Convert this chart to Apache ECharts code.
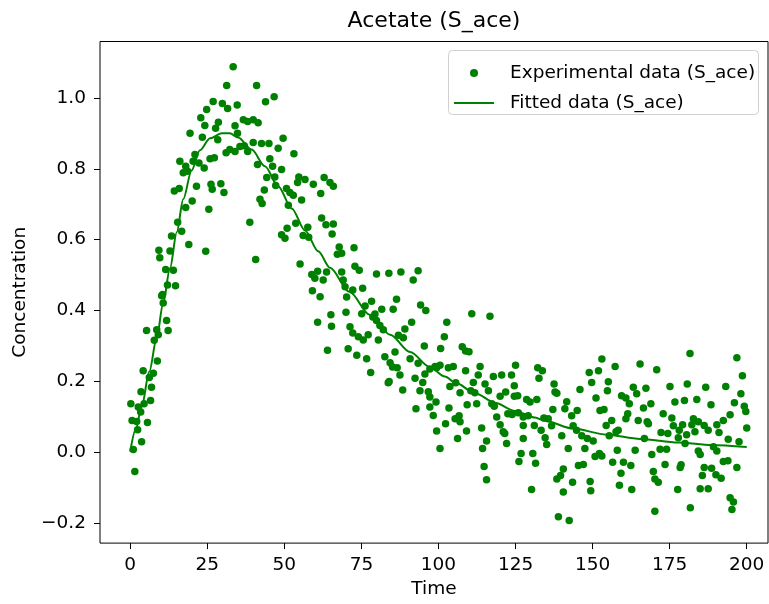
<!DOCTYPE html>
<html><head><meta charset="utf-8">
<script src="https://cdn.jsdelivr.net/npm/echarts@6/dist/echarts.min.js"></script>
<style>html,body{margin:0;padding:0;background:#fff}#chart{width:769px;height:604px}</style>
</head><body><div id="chart"></div>
<script>
const chartTitle = 'Acetate (S_ace)';
const xName = 'Time';
const yName = 'Concentration';
const seriesNames = ['Experimental data (S_ace)', 'Fitted data (S_ace)'];
const xTicks = [0, 25, 50, 75, 100, 125, 150, 175, 200];
const yTicks = [-0.2, 0.0, 0.2, 0.4, 0.6, 0.8, 1.0];

// experimental points [time, concentration]
const experimental = [
[31.3,1.035],[26.9,0.99],[29.9,0.984],[24.8,0.967],[31.6,0.97],[22.9,0.944],[28.6,0.931],[24.2,0.922],[27.7,0.914],[19.4,0.90],[23.4,0.889],[28.4,0.882],[31.1,0.845],[27.3,0.831],[25.9,0.828],[21.0,0.84],[16.1,0.821],[20.4,0.821],[22.3,0.816],[18.0,0.807],[17.2,0.789],[18.6,0.793],[24.0,0.802],[21.5,0.751],[26.2,0.756],[29.4,0.758],[26.6,0.742],[30.4,0.733],[15.9,0.744],[14.3,0.737],[20.1,0.709],[18.0,0.691],[25.5,0.686],[15.4,0.649],[16.7,0.624],[13.4,0.61],[19.0,0.586],[24.5,0.567],[9.3,0.57],[9.6,0.549],[12.9,0.568],[11.5,0.516],[14.0,0.514],[12.1,0.472],[14.7,0.47],[10.2,0.442],[10.5,0.445],[10.7,0.421],[11.8,0.372],[12.3,0.344],[5.3,0.344],[8.6,0.346],[9.1,0.332],[7.8,0.316],[8.8,0.258],[4.2,0.23],[7.5,0.223],[6.2,0.211],[6.9,0.184],[3.5,0.171],[6.6,0.146],[0.2,0.137],[2.6,0.128],[3.4,0.114],[4.5,0.137],[0.6,0.09],[2.1,0.087],[5.6,0.084],[2.4,0.064],[3.7,0.03],[1.0,0.008],[1.5,-0.054],
[33.4,1.088],[41.0,1.035],[46.7,1.003],[43.9,0.989],[34.7,0.98],[34.0,0.921],[36.7,0.938],[38.1,0.933],[39.9,0.938],[41.5,0.93],[34.8,0.90],[49.6,0.886],[32.3,0.854],[34.0,0.849],[35.6,0.863],[37.0,0.865],[38.1,0.849],[39.9,0.874],[42.6,0.871],[45.0,0.871],[48.0,0.858],[53.1,0.842],[41.3,0.812],[45.3,0.828],[46.2,0.807],[49.1,0.798],[44.3,0.775],[46.9,0.777],[43.5,0.74],[47.2,0.753],[50.7,0.744],[51.8,0.733],[52.9,0.725],[54.7,0.777],[56.7,0.77],[54.3,0.761],[59.4,0.756],[62.9,0.775],[64.8,0.761],[65.9,0.751],[61.8,0.73],[42.1,0.714],[42.8,0.702],[51.3,0.697],[55.6,0.712],[38.8,0.649],[50.9,0.632],[53.7,0.646],[49.1,0.614],[50.2,0.604],[57.6,0.635],[56.1,0.612],[57.9,0.607],[62.1,0.661],[63.5,0.642],[65.9,0.644],[65.5,0.616],[40.7,0.544],[55.1,0.531],[58.9,0.502],[59.9,0.491],[60.8,0.511],[62.6,0.486],[63.7,0.509],[59.1,0.456],[61.6,0.439],[60.8,0.367],[65.1,0.388],[65.3,0.356],[64.0,0.288],
[67.8,0.579],[72.6,0.577],[67.2,0.559],[68.6,0.562],[72.9,0.525],[74.3,0.514],[79.9,0.503],[83.9,0.505],[87.8,0.509],[93.4,0.512],[91.8,0.486],[68.6,0.509],[69.1,0.486],[69.7,0.467],[72.2,0.458],[75.4,0.463],[70.2,0.438],[78.3,0.426],[76.2,0.413],[86.4,0.432],[81.6,0.404],[85.3,0.404],[94.2,0.416],[95.9,0.40],[70.0,0.395],[75.1,0.391],[78.7,0.382],[79.4,0.39],[79.9,0.372],[91.3,0.367],[71.3,0.354],[81.0,0.358],[82.1,0.346],[89.1,0.348],[72.2,0.337],[74.0,0.326],[75.6,0.317],[77.2,0.332],[87.0,0.33],[88.6,0.323],[80.5,0.317],[70.7,0.292],[85.9,0.283],[95.4,0.30],[82.6,0.27],[73.5,0.274],[76.7,0.264],[84.3,0.253],[90.8,0.264],[93.4,0.251],[85.1,0.241],[86.6,0.239],[78.0,0.225],[87.5,0.218],[92.4,0.209],[95.6,0.221],[99.4,0.239],[97.2,0.235],[83.7,0.196],[84.0,0.20],[88.4,0.176],[94.9,0.197],[94.0,0.174],[96.7,0.171],[97.2,0.156],[99.2,0.142],[92.7,0.123],[97.2,0.128],[98.3,0.104],[99.4,0.06],[100.5,0.011],
[110.8,0.391],[116.7,0.384],[102.7,0.367],[101.9,0.326],[100.7,0.293],[107.7,0.298],[108.8,0.286],[109.9,0.284],[98.9,0.242],[100.5,0.246],[103.2,0.239],[104.8,0.242],[108.8,0.23],[113.5,0.242],[125.0,0.246],[132.2,0.239],[133.7,0.23],[112.9,0.218],[117.8,0.214],[120.5,0.218],[123.7,0.218],[132.6,0.209],[103.7,0.186],[105.6,0.196],[111.3,0.197],[115.1,0.193],[124.6,0.188],[116.2,0.174],[107.0,0.168],[110.5,0.174],[111.8,0.168],[121.8,0.17],[120.0,0.158],[112.4,0.137],[117.3,0.137],[124.6,0.158],[125.7,0.16],[128.6,0.149],[129.7,0.142],[131.9,0.149],[103.4,0.125],[109.3,0.134],[118.1,0.13],[118.9,0.10],[122.5,0.109],[123.9,0.107],[125.9,0.112],[127.5,0.10],[129.1,0.103],[105.4,0.095],[106.7,0.103],[107.0,0.086],[102.3,0.081],[114.0,0.069],[120.0,0.078],[127.5,0.076],[131.1,0.076],[133.3,0.062],[109.1,0.06],[121.0,0.058],[121.5,0.053],[122.1,0.025],[106.2,0.039],[115.6,0.032],[127.5,0.039],[114.3,0.011],[126.8,-0.003],[130.6,-0.003],[126.1,-0.026],[131.5,-0.031],[114.8,-0.04],[115.6,-0.077],[130.2,-0.105],
[153.0,0.263],[157.3,0.242],[165.4,0.249],[148.9,0.225],[151.9,0.23],[149.7,0.197],[155.1,0.199],[137.5,0.193],[145.9,0.177],[154.8,0.174],[163.2,0.184],[167.3,0.181],[137.8,0.17],[138.4,0.167],[159.4,0.16],[164.3,0.165],[151.1,0.153],[160.8,0.153],[141.6,0.143],[161.9,0.137],[141.0,0.123],[145.0,0.118],[137.1,0.121],[152.4,0.118],[153.7,0.121],[166.5,0.125],[161.4,0.109],[143.2,0.103],[134.2,0.097],[135.6,0.095],[156.2,0.09],[160.8,0.095],[164.8,0.09],[167.7,0.086],[136.7,0.075],[143.7,0.075],[154.4,0.076],[144.8,0.062],[158.3,0.062],[146.5,0.047],[140.0,0.047],[148.3,0.039],[155.4,0.047],[157.6,0.058],[134.6,0.041],[135.1,0.022],[150.2,0.032],[166.8,0.039],[142.1,0.011],[147.5,0.011],[158.0,0.006],[163.8,0.006],[152.2,-0.003],[150.8,-0.012],[153.0,-0.01],[156.5,-0.028],[160.0,-0.028],[145.4,-0.037],[147.0,-0.034],[162.4,-0.037],[140.5,-0.047],[159.2,-0.059],[139.6,-0.065],[138.4,-0.075],[143.5,-0.084],[149.2,-0.082],[158.7,-0.093],[140.5,-0.112],[149.4,-0.108],[162.7,-0.105],[138.9,-0.182],[142.4,-0.192],
[181.6,0.279],[196.8,0.267],[170.8,0.233],[198.6,0.216],[175.1,0.186],[180.7,0.193],[186.7,0.184],[193.2,0.186],[198.1,0.165],[183.8,0.149],[179.8,0.146],[176.7,0.142],[168.9,0.137],[188.4,0.134],[196.0,0.14],[199.2,0.13],[199.7,0.115],[172.9,0.109],[194.6,0.106],[175.7,0.097],[182.7,0.095],[192.4,0.09],[168.1,0.081],[176.2,0.075],[179.2,0.078],[182.2,0.078],[184.3,0.086],[186.2,0.076],[190.3,0.078],[200.0,0.069],[172.2,0.056],[174.4,0.053],[178.1,0.062],[180.5,0.05],[183.2,0.058],[187.5,0.062],[191.0,0.056],[177.8,0.041],[194.0,0.037],[197.5,0.03],[180.0,0.025],[171.9,0.009],[174.0,0.009],[184.3,0.004],[189.2,0.016],[190.3,0.004],[169.2,-0.006],[184.9,-0.006],[192.4,-0.026],[193.9,-0.024],[196.8,-0.043],[173.5,-0.034],[178.7,-0.035],[178.4,-0.043],[186.2,-0.043],[188.6,-0.045],[169.7,-0.054],[185.6,-0.065],[190.0,-0.063],[191.7,-0.073],[170.2,-0.075],[171.3,-0.084],[177.6,-0.105],[184.9,-0.103],[187.5,-0.103],[194.6,-0.128],[195.7,-0.14],[170.2,-0.166],[181.7,-0.156],[195.2,-0.161]
];

// fitted curve
const fitTime = [0,1.8,3.7,6.2,8.6,10.7,12.9,15.1,17.2,19.9,22.6,25.9,29.7,32.3,35,39.4,43.7,48,52.4,56.7,61,64.8,71.2,77.7,84.3,90.8,97.3,102.1,105.4,111.9,118.3,124.8,131.3,134.5,143.7,154.6,165.4,177.8,188.6,200];
const fitConc = [0.002,0.065,0.128,0.228,0.323,0.421,0.519,0.621,0.714,0.795,0.852,0.886,0.9,0.9,0.888,0.854,0.807,0.751,0.688,0.626,0.567,0.521,0.452,0.388,0.332,0.283,0.24,0.214,0.197,0.167,0.14,0.117,0.098,0.089,0.067,0.05,0.038,0.028,0.021,0.015];

const fitData = fitTime.map((t, i) => [t, fitConc[i]]);
const FONT = 'DejaVu Sans';
const GREEN = '#008000';

const chart = echarts.init(document.getElementById('chart'), null, {renderer: 'canvas'});
chart.setOption({
  animation: false,
  backgroundColor: '#ffffff',
  title: {
    text: chartTitle, left: 434, top: 10, padding: 0, textAlign: 'center',
    textStyle: {fontFamily: FONT, fontSize: 22, fontWeight: 'normal', color: '#000', lineHeight: 22}
  },
  grid: {left: 100, right: 1, top: 41.5, bottom: 58.3, show: true, borderColor: '#000', borderWidth: 1, backgroundColor: 'transparent'},
  xAxis: {
    type: 'value', min: -9.8, max: 206.9,
    name: xName, nameLocation: 'middle', nameGap: 36,
    nameTextStyle: {fontFamily: FONT, fontSize: 18.5, color: '#000'},
    axisLine: {show: false, onZero: false},
    axisTick: {show: true, customValues: xTicks, length: 6, lineStyle: {color: '#000', width: 1}},
    axisLabel: {customValues: xTicks, margin: 13, fontFamily: FONT, fontSize: 18.5, color: '#000'},
    splitLine: {show: false}
  },
  yAxis: {
    type: 'value', min: -0.256, max: 1.159,
    name: yName, nameLocation: 'middle', nameGap: 64, nameRotate: 90,
    nameTextStyle: {fontFamily: FONT, fontSize: 18.5, color: '#000'},
    axisLine: {show: false, onZero: false},
    axisTick: {show: true, customValues: yTicks, length: 6, lineStyle: {color: '#000', width: 1}},
    axisLabel: {
      customValues: yTicks, margin: 14, fontFamily: FONT, fontSize: 18.5, color: '#000',
      formatter: v => (v < -1e-9 ? '\u2212' : '') + Math.abs(v).toFixed(1)
    },
    splitLine: {show: false}
  },
  graphic: [{
    type: 'rect', z: 3,
    shape: {x: 448.5, y: 50.5, width: 310, height: 64, r: 4},
    style: {fill: 'rgba(255,255,255,0.8)', stroke: '#d0d0d0', lineWidth: 1}
  }],
  legend: {
    orient: 'vertical', left: 454, top: 62, padding: 0, z: 5,
    itemWidth: 40, itemHeight: 8, itemGap: 8,
    textStyle: {fontFamily: FONT, fontSize: 18.5, color: '#000', lineHeight: 22, padding: [0, 0, 0, 11]},
    data: [
      {name: seriesNames[0], icon: 'circle'},
      {name: seriesNames[1], icon: 'path://M0,0H40V2H0Z'}
    ]
  },
  series: [
    {
      type: 'scatter', name: seriesNames[0], data: experimental,
      symbol: 'circle', symbolSize: 7.5, z: 2,
      itemStyle: {color: GREEN, opacity: 1}
    },
    {
      type: 'line', name: seriesNames[1], data: fitData,
      symbol: 'none', smooth: 0.3, smoothMonotone: 'x', z: 2,
      lineStyle: {color: GREEN, width: 2}, itemStyle: {color: GREEN}
    }
  ]
});
</script>
</body></html>
